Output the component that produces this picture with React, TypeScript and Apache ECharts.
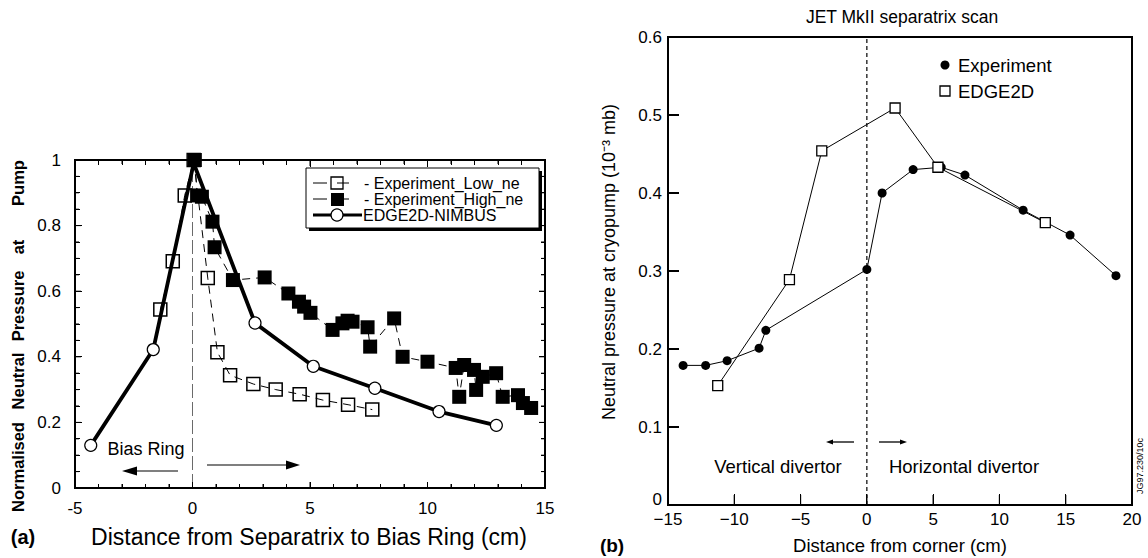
import React, { useEffect, useRef } from "react";
import * as echarts from "echarts";

const FONT = '"Liberation Sans", Arial, Helvetica, sans-serif';

// ---- Panel (a) data ----
const edgeNimbus = [[-4.33, 0.13], [-1.67, 0.422], [0.05, 0.99], [2.66, 0.503], [5.14, 0.371], [7.76, 0.304], [10.49, 0.233], [12.93, 0.191]];
const lowNe = [[-1.37, 0.544], [-0.84, 0.691], [-0.33, 0.892], [0.05, 1.0], [0.65, 0.64], [1.06, 0.414], [1.6, 0.344], [2.59, 0.317], [3.54, 0.3], [4.56, 0.286], [5.55, 0.268], [6.62, 0.254], [7.65, 0.239]];
const highNe = [[0.1, 1.0], [0.2, 0.892], [0.4, 0.888], [0.85, 0.812], [0.94, 0.734], [1.72, 0.634], [3.07, 0.642], [4.08, 0.593], [4.53, 0.568], [4.75, 0.553], [5.02, 0.534], [5.96, 0.482], [6.38, 0.502], [6.6, 0.51], [6.81, 0.507], [7.45, 0.49], [7.56, 0.431], [8.58, 0.517], [8.94, 0.4], [10.0, 0.385], [11.2, 0.366], [11.35, 0.278], [11.56, 0.375], [11.98, 0.36], [12.07, 0.299], [12.35, 0.339], [12.92, 0.35], [13.2, 0.278], [13.85, 0.283], [14.06, 0.259], [14.41, 0.244]];
const zeroLineA = [[0, 0], [0, 1]];

// ---- Panel (b) data ----
const experimentB = [[-13.86, 0.179], [-12.16, 0.179], [-10.54, 0.185], [-8.13, 0.201], [-7.62, 0.224], [0.0, 0.302], [1.15, 0.4], [3.49, 0.43], [5.61, 0.433], [7.4, 0.423], [11.79, 0.378], [15.33, 0.346], [18.79, 0.294]];
const edge2dB = [[-11.25, 0.153], [-5.84, 0.289], [-3.4, 0.454], [2.13, 0.509], [5.36, 0.433], [13.46, 0.362]];
const zeroLineB = [[0, 0], [0, 0.6]];

// ---- tick values ----
const xTicksA = [-5, -4, -3, -2, -1, 0, 1, 2, 3, 4, 5, 6, 7, 8, 9, 10, 11, 12, 13, 14, 15];
const yTicksA = [0, 0.05, 0.1, 0.15, 0.2, 0.25, 0.3, 0.35, 0.4, 0.45, 0.5, 0.55, 0.6, 0.65, 0.7, 0.75, 0.8, 0.85, 0.9, 0.95, 1];
const xTicksB = [-15, -10, -5, 0, 5, 10, 15, 20];
const yTicksB = [0, 0.1, 0.2, 0.3, 0.4, 0.5, 0.6];

const legendA = ["- Experiment_Low_ne", "- Experiment_High_ne", "EDGE2D-NIMBUS"];
const legendB = ["Experiment", "EDGE2D"];
const yTitleWordsA = ["Normalised", "Neutral", "Pressure", "at", "Pump"];
const yTitleWordPosA = [467, 381, 306, 247, 183];

// plot rectangles (never handed to echarts directly, only copies)
const A_L = 75, A_T = 160, A_W = 470, A_H = 328;
const B_L = 668, B_T = 37, B_W = 464, B_H = 468;

function arrowHead(tipX: number, y: number, dir: number, len: number, half: number) {
  return {
    type: "polygon",
    shape: { points: [[tipX, y], [tipX - dir * len, y - half], [tipX - dir * len, y + half]] },
    style: { fill: "#000" },
    z: 70,
  };
}

function axis(grid: number, pos: string, min: number, max: number, interval: number, label: any) {
  return {
    type: "value", gridIndex: grid, position: pos, min, max, interval,
    axisLine: { show: false, onZero: false },
    splitLine: { show: false },
    axisTick: { show: false },
    axisLabel: { fontFamily: FONT, fontSize: 17, color: "#000", showMinLabel: true, showMaxLabel: true, ...label },
  };
}

const seg = (x1: number, y1: number, x2: number, y2: number, w: number) => ({
  type: "line", shape: { x1, y1, x2, y2 }, style: { stroke: "#000", lineWidth: w }, z: 70,
});

export default function App() {
  const wrapRef = useRef<HTMLDivElement>(null);
  const ref = useRef<HTMLDivElement>(null);
  useEffect(() => {
    if (!ref.current || !wrapRef.current) return;
    const chart = echarts.init(ref.current, undefined, { renderer: "svg" });
    const option: any = {
      animation: false,
      grid: [
        { left: A_L, top: A_T, width: A_W, height: A_H },
        { left: B_L, top: B_T, width: B_W, height: B_H },
      ],
      xAxis: [
        axis(0, "bottom", -5, 15, 5, { margin: 12 }),
        axis(1, "bottom", -15, 20, 5, { margin: 6, formatter: (v: number) => String(v).replace("-", "\u2212") }),
      ],
      yAxis: [
        axis(0, "left", 0, 1, 0.2, {
          margin: 14, formatter: (v: number) => (v === 0 ? "0" : v === 1 ? "1" : v.toFixed(1)),
        }),
        axis(1, "left", 0, 0.6, 0.1, {
          margin: 6,
          formatter: (v: number) => (v === 0 ? "{z|0}" : v.toFixed(1)),
          rich: { z: { fontFamily: FONT, fontSize: 17, color: "#000", padding: [0, 0, 12, 0] } },
        }),
      ],
      series: [
        {
          type: "line", xAxisIndex: 0, yAxisIndex: 0, data: zeroLineA, symbol: "none",
          lineStyle: { color: "#444", width: 0.8, type: [14, 4] },
        },
        {
          name: "EDGE2D-NIMBUS", type: "line", xAxisIndex: 0, yAxisIndex: 0,
          data: edgeNimbus.map((p, i) => (i === 2 ? { value: p, symbol: "none" } : p)),
          symbol: "circle", symbolSize: 12,
          lineStyle: { color: "#000", width: 3.8 },
          itemStyle: { color: "#fff", borderColor: "#000", borderWidth: 1.2 },
        },
        {
          name: "Experiment_Low_ne", type: "line", xAxisIndex: 0, yAxisIndex: 0, data: lowNe,
          symbol: "rect", symbolSize: 13,
          lineStyle: { color: "#000", width: 1, type: [8, 6] },
          itemStyle: { color: "rgba(255,255,255,0)", borderColor: "#000", borderWidth: 1.5 },
        },
        {
          name: "Experiment_High_ne", type: "line", xAxisIndex: 0, yAxisIndex: 0, data: highNe,
          symbol: "rect", symbolSize: 14,
          lineStyle: { color: "#000", width: 1, type: [8, 6] },
          itemStyle: { color: "#000", borderColor: "#000", borderWidth: 0 },
        },
        {
          type: "line", xAxisIndex: 1, yAxisIndex: 1, data: zeroLineB, symbol: "none",
          lineStyle: { color: "#000", width: 1.2, type: [4, 3] },
        },
        {
          name: "Experiment", type: "line", xAxisIndex: 1, yAxisIndex: 1, data: experimentB,
          symbol: "circle", symbolSize: 9,
          lineStyle: { color: "#000", width: 1 },
          itemStyle: { color: "#000", borderColor: "#000", borderWidth: 0 },
        },
        {
          name: "EDGE2D", type: "line", xAxisIndex: 1, yAxisIndex: 1, data: edge2dB,
          symbol: "rect", symbolSize: 10,
          lineStyle: { color: "#000", width: 1 },
          itemStyle: { color: "#fff", borderColor: "#000", borderWidth: 1.3 },
        },
      ],
    };
    chart.setOption(option);

    const px = (axisIdx: number, v: number, isX: boolean, l: number, t: number, w: number, h: number, min: number, max: number) => {
      let r: any;
      try {
        r = chart.convertToPixel(isX ? { xAxisIndex: axisIdx } : { yAxisIndex: axisIdx }, v);
      } catch (e) {
        r = undefined;
      }
      if (typeof r === "number" && isFinite(r)) return r;
      return isX ? l + ((v - min) / (max - min)) * w : t + h - ((v - min) / (max - min)) * h;
    };

    // collect frame + tick segments
    const segs: [number, number, number, number, number][] = [];
    const box = (l: number, t: number, w: number, h: number, lw: number) => {
      const r = l + w, b = t + h;
      segs.push([l, t, r, t, lw], [r, t, r, b, lw], [l, b, r, b, lw], [l, t, l, b, lw]);
    };
    box(A_L, A_T, A_W, A_H, 1.2);
    box(B_L, B_T, B_W, B_H, 1.3);
    xTicksA.forEach((v) => {
      const x = px(0, v, true, A_L, A_T, A_W, A_H, -5, 15);
      const len = v % 5 === 0 ? 6 : 4;
      segs.push([x, A_T + A_H - len, x, A_T + A_H, 1]);
      segs.push([x, A_T, x, A_T + len, 1]);
    });
    yTicksA.forEach((v, i) => {
      const y = px(0, v, false, A_L, A_T, A_W, A_H, 0, 1);
      const len = i % 4 === 0 ? 6 : 4;
      segs.push([A_L, y, A_L + len, y, 1]);
      segs.push([A_L + A_W - len, y, A_L + A_W, y, 1]);
    });
    xTicksB.forEach((v) => {
      const x = px(1, v, true, B_L, B_T, B_W, B_H, -15, 20);
      segs.push([x, B_T + B_H - 10, x, B_T + B_H, 1.2]);
    });
    yTicksB.forEach((v) => {
      const y = px(1, v, false, B_L, B_T, B_W, B_H, 0, 0.6);
      segs.push([B_L, y, B_L + 10, y, 1.2]);
    });

    const frame = segs.map(([x1, y1, x2, y2, w]) => seg(x1, y1, x2, y2, w));

    // same frame also laid over as plain page lines, so it shows whatever happens
    const overlay = document.createElement("div");
    overlay.style.cssText = "position:absolute;left:0;top:0;width:1148px;height:558px;pointer-events:none;";
    segs.forEach(([x1, y1, x2, y2, w]) => {
      const d = document.createElement("div");
      if (y1 === y2) {
        const xa = Math.min(x1, x2), xb = Math.max(x1, x2);
        d.style.cssText = `position:absolute;left:${xa - w / 2}px;top:${y1 - w / 2}px;width:${xb - xa + w}px;height:${w}px;background:#000;`;
      } else {
        const ya = Math.min(y1, y2), yb = Math.max(y1, y2);
        d.style.cssText = `position:absolute;left:${x1 - w / 2}px;top:${ya - w / 2}px;width:${w}px;height:${yb - ya + w}px;background:#000;`;
      }
      overlay.appendChild(d);
    });
    wrapRef.current.appendChild(overlay);

    const texts: any[] = [
      // ---- Panel (a) texts ----
      ...yTitleWordsA.map((w, i) => ({
        type: "text", x: 18, y: yTitleWordPosA[i], rotation: Math.PI / 2, z: 70,
        style: { text: w, fontFamily: FONT, fontSize: 16.5, fontWeight: "bold", fill: "#000", align: "center", verticalAlign: "middle" },
      })),
      { type: "text", x: 309, y: 537, z: 70,
        style: { text: "Distance from Separatrix to Bias Ring (cm)", fontFamily: FONT, fontSize: 23, fill: "#000", align: "center", verticalAlign: "middle" } },
      { type: "text", x: 23, y: 537, z: 70,
        style: { text: "(a)", fontFamily: FONT, fontSize: 20, fontWeight: "bold", fill: "#000", align: "center", verticalAlign: "middle" } },
      { type: "text", x: 146, y: 449, z: 70,
        style: { text: "Bias Ring", fontFamily: FONT, fontSize: 18, fill: "#000", align: "center", verticalAlign: "middle" } },
      seg(178, 471, 136, 471, 1.2),
      arrowHead(122, 471, -1, 15, 4.5),
      seg(207, 465, 287, 465, 1.2),
      arrowHead(300, 465, 1, 14, 4.5),
      // ---- Panel (a) legend ----
      { type: "rect", shape: { x: 309, y: 171, width: 233, height: 60 }, style: { fill: "#000" }, z: 80 },
      { type: "rect", shape: { x: 306, y: 168, width: 233, height: 60 }, style: { fill: "#fff", stroke: "#000", lineWidth: 1 }, z: 81 },
      { ...seg(313, 183, 327, 183, 1), z: 82 },
      { type: "rect", shape: { x: 331, y: 177, width: 12, height: 12 }, style: { fill: "none", stroke: "#000", lineWidth: 1.3 }, z: 82 },
      { ...seg(337, 183, 349, 183, 1), z: 82 },
      { type: "text", x: 364, y: 183, z: 82,
        style: { text: legendA[0], fontFamily: FONT, fontSize: 16, fill: "#000", align: "left", verticalAlign: "middle" } },
      { ...seg(313, 199, 327, 199, 1), z: 82 },
      { type: "rect", shape: { x: 331, y: 193, width: 13, height: 13 }, style: { fill: "#000" }, z: 82 },
      { ...seg(337, 199, 349, 199, 1), z: 82 },
      { type: "text", x: 364, y: 199, z: 82,
        style: { text: legendA[1], fontFamily: FONT, fontSize: 16, fill: "#000", align: "left", verticalAlign: "middle" } },
      { ...seg(313, 215, 362, 215, 3), z: 82 },
      { type: "circle", shape: { cx: 337, cy: 215, r: 6 }, style: { fill: "#fff", stroke: "#000", lineWidth: 1.2 }, z: 83 },
      { type: "text", x: 363, y: 215, z: 82,
        style: { text: legendA[2], fontFamily: FONT, fontSize: 16, fill: "#000", align: "left", verticalAlign: "middle" } },
      // ---- Panel (b) texts ----
      { type: "text", x: 902, y: 17, z: 70,
        style: { text: "JET MkII separatrix scan", fontFamily: FONT, fontSize: 17.5, fill: "#000", align: "center", verticalAlign: "middle" } },
      { type: "circle", shape: { cx: 945, cy: 65, r: 4.5 }, style: { fill: "#000" }, z: 70 },
      { type: "text", x: 958, y: 65, z: 70,
        style: { text: legendB[0], fontFamily: FONT, fontSize: 18.5, fill: "#000", align: "left", verticalAlign: "middle" } },
      { type: "rect", shape: { x: 940, y: 86, width: 10, height: 10 }, style: { fill: "#fff", stroke: "#000", lineWidth: 1.3 }, z: 70 },
      { type: "text", x: 958, y: 91, z: 70,
        style: { text: legendB[1], fontFamily: FONT, fontSize: 18.5, fill: "#000", align: "left", verticalAlign: "middle" } },
      { type: "text", x: 609, y: 262, rotation: Math.PI / 2, z: 70,
        style: { text: "Neutral pressure at cryopump (10\u207B\u00B3 mb)", fontFamily: FONT, fontSize: 18, fill: "#000", align: "center", verticalAlign: "middle" } },
      { type: "text", x: 900, y: 545, z: 70,
        style: { text: "Distance from corner (cm)", fontFamily: FONT, fontSize: 18.5, fill: "#000", align: "center", verticalAlign: "middle" } },
      { type: "text", x: 612, y: 545, z: 70,
        style: { text: "(b)", fontFamily: FONT, fontSize: 19, fontWeight: "bold", fill: "#000", align: "center", verticalAlign: "middle" } },
      { type: "text", x: 778, y: 466, z: 70,
        style: { text: "Vertical divertor", fontFamily: FONT, fontSize: 18.5, fill: "#000", align: "center", verticalAlign: "middle" } },
      { type: "text", x: 964, y: 466, z: 70,
        style: { text: "Horizontal divertor", fontFamily: FONT, fontSize: 18.5, fill: "#000", align: "center", verticalAlign: "middle" } },
      seg(854, 442, 832, 442, 1.3),
      arrowHead(826, 442, -1, 7, 2.5),
      seg(879, 442, 901, 442, 1.3),
      arrowHead(907, 442, 1, 7, 2.5),
      { type: "text", x: 1140, y: 466, rotation: Math.PI / 2, z: 70,
        style: { text: "JG97.230/10c", fontFamily: FONT, fontSize: 9, fill: "#000", align: "center", verticalAlign: "middle" } },
    ];

    chart.setOption({ graphic: [...frame, ...texts] });
    return () => {
      chart.dispose();
      if (overlay.parentNode) overlay.parentNode.removeChild(overlay);
    };
  }, []);
  return (
    <div ref={wrapRef} style={{ position: "absolute", left: 0, top: 0, width: 1148, height: 558 }}>
      <div ref={ref} style={{ position: "absolute", left: 0, top: 0, width: 1148, height: 558 }} />
    </div>
  );
}
